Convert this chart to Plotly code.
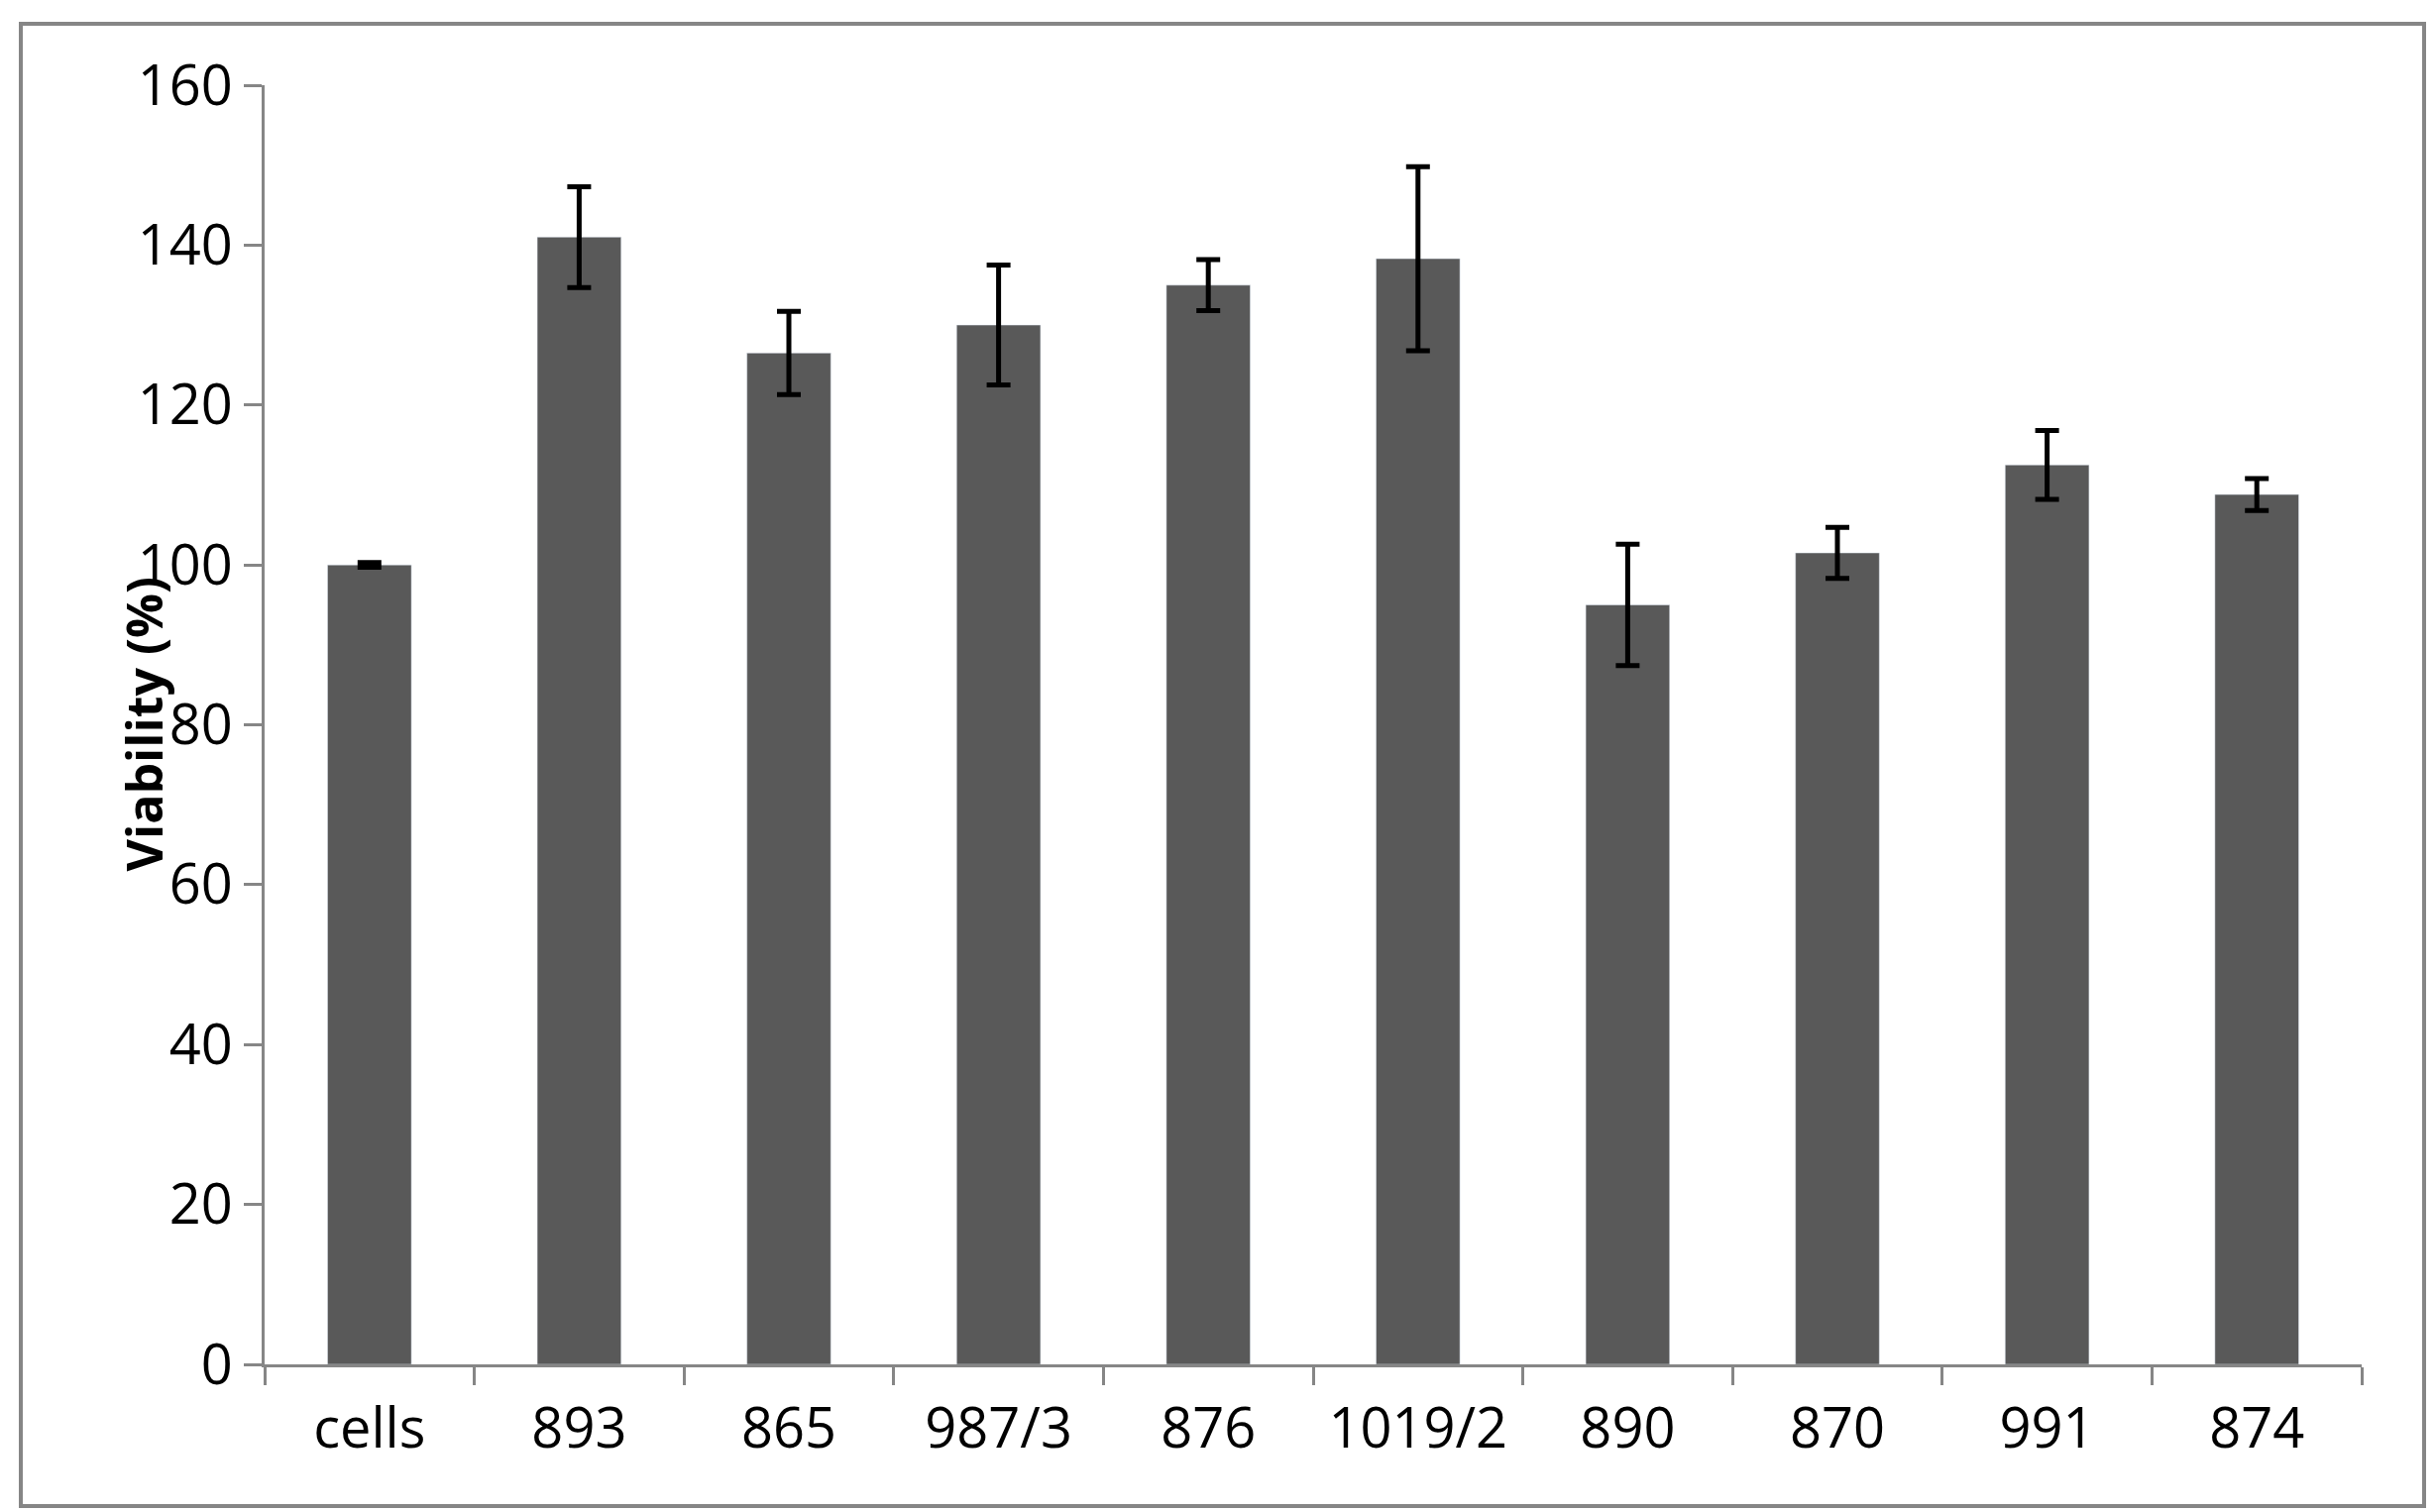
import plotly.graph_objects as go

categories = ["cells", "893", "865", "987/3", "876", "1019/2", "890", "870", "991", "874"]
values = [100, 141, 126.5, 130, 135, 138.3, 95, 101.5, 112.5, 108.8]
errors = [0.3, 6.3, 5.2, 7.5, 3.2, 11.5, 7.6, 3.2, 4.3, 2.0]
y_ticks = [0, 20, 40, 60, 80, 100, 120, 140, 160]

W, H = 2458, 1526
L, R, T, B = 259, 83, 78, 157
fig = go.Figure(go.Bar(
    x=categories, y=values, width=0.4, marker_color="#595959",
    error_y=dict(type="data", array=errors, color="black", thickness=5, width=12),
))
font = "Open Sans"
fig.update_layout(
    width=W, height=H, margin=dict(l=L, r=R, t=T, b=B),
    plot_bgcolor="white", paper_bgcolor="white", showlegend=False,
    font=dict(family=font, color="black", size=56),
)
fig.update_xaxes(showline=True, linecolor="#868686", linewidth=3, ticks="outside",
                 tickson="boundaries", ticklen=18, tickcolor="#868686", tickwidth=3,
                 tickfont=dict(size=56), range=[-0.5, 9.5], ticklabelstandoff=14)
fig.update_yaxes(range=[0, 160], tickvals=y_ticks, showgrid=False, showline=True,
                 linecolor="#868686", linewidth=3, ticks="outside", ticklen=18,
                 tickcolor="#868686", tickwidth=3, tickfont=dict(size=56), zeroline=False)
fig.add_annotation(text="<b>Viability (%)</b>", textangle=-90, xref="paper", yref="paper",
                   x=(100 - L) / (W - L - R), y=0.5, showarrow=False, font=dict(size=50))
fig.add_shape(type="rect", xref="paper", yref="paper",
              x0=(13 - L) / (W - L - R), x1=(2438 - L) / (W - L - R),
              y0=(H - B - 1512) / (H - T - B), y1=(H - B - 16) / (H - T - B),
              line=dict(color="#868686", width=4))
fig.write_html("out.html")
